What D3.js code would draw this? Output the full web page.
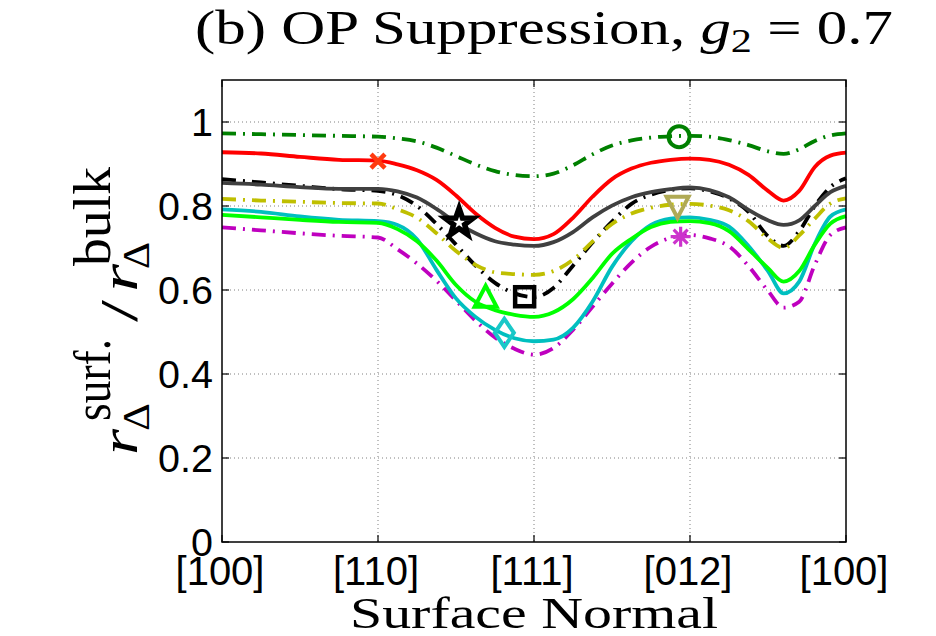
<!DOCTYPE html>
<html>
<head>
<meta charset="utf-8">
<script src="https://cdn.jsdelivr.net/npm/d3@7"></script>
<style>
  html, body { margin: 0; padding: 0; background: #fff; }
  svg { display: block; }
</style>
</head>
<body>
<svg id="chart" width="936" height="636"></svg>
<script>
// ---------------- data ----------------
const xTickValues = [0, 1, 2, 3, 4];
const xTickLabels = ["[100]", "[110]", "[111]", "[012]", "[100]"];
const yTickValues = [0, 0.2, 0.4, 0.6, 0.8, 1];
const yTickLabels = ["0", "0.2", "0.4", "0.6", "0.8", "1"];

const xGrid = [0, 0.25, 0.5, 0.75, 1, 1.125, 1.25, 1.375, 1.5, 1.625, 1.75, 1.875, 2, 2.125, 2.25, 2.375, 2.5, 2.625, 2.75, 2.875, 3, 3.125, 3.25, 3.375, 3.5, 3.6, 3.7, 3.8, 3.9, 4];

const darkGreenDashDot = [0.973, 0.971, 0.969, 0.967, 0.965, 0.961, 0.954, 0.939, 0.919, 0.899, 0.883, 0.874, 0.871, 0.877, 0.897, 0.923, 0.944, 0.956, 0.963, 0.966, 0.967, 0.965, 0.957, 0.945, 0.930, 0.924, 0.935, 0.955, 0.968, 0.973];
const redSolid = [0.928, 0.925, 0.917, 0.910, 0.908, 0.899, 0.885, 0.862, 0.825, 0.782, 0.748, 0.727, 0.721, 0.733, 0.772, 0.822, 0.864, 0.889, 0.903, 0.910, 0.913, 0.910, 0.898, 0.874, 0.836, 0.813, 0.836, 0.893, 0.920, 0.927];
const graySolid = [0.855, 0.851, 0.845, 0.841, 0.841, 0.835, 0.820, 0.793, 0.761, 0.735, 0.716, 0.708, 0.705, 0.714, 0.738, 0.773, 0.801, 0.821, 0.833, 0.840, 0.844, 0.838, 0.821, 0.791, 0.766, 0.755, 0.766, 0.800, 0.833, 0.848];
const blackDashDot = [0.864, 0.856, 0.848, 0.840, 0.836, 0.826, 0.800, 0.757, 0.708, 0.658, 0.617, 0.592, 0.583, 0.605, 0.658, 0.713, 0.763, 0.805, 0.827, 0.838, 0.842, 0.835, 0.818, 0.786, 0.728, 0.705, 0.740, 0.800, 0.845, 0.866];
const yellowDashDot = [0.817, 0.813, 0.810, 0.807, 0.806, 0.792, 0.772, 0.735, 0.693, 0.660, 0.642, 0.638, 0.636, 0.645, 0.672, 0.715, 0.757, 0.782, 0.796, 0.803, 0.805, 0.801, 0.790, 0.764, 0.722, 0.700, 0.730, 0.770, 0.806, 0.818];
const cyanSolid = [0.792, 0.786, 0.775, 0.767, 0.764, 0.755, 0.721, 0.648, 0.580, 0.536, 0.505, 0.485, 0.478, 0.482, 0.510, 0.572, 0.655, 0.716, 0.755, 0.770, 0.773, 0.767, 0.751, 0.705, 0.645, 0.592, 0.620, 0.710, 0.775, 0.792];
const greenSolid = [0.779, 0.773, 0.767, 0.762, 0.760, 0.745, 0.716, 0.670, 0.612, 0.572, 0.552, 0.541, 0.536, 0.547, 0.578, 0.628, 0.686, 0.722, 0.750, 0.762, 0.764, 0.759, 0.740, 0.697, 0.652, 0.620, 0.645, 0.708, 0.758, 0.776];
const magentaDashDot = [0.749, 0.742, 0.735, 0.729, 0.725, 0.697, 0.663, 0.622, 0.575, 0.527, 0.487, 0.460, 0.446, 0.462, 0.505, 0.560, 0.615, 0.665, 0.703, 0.724, 0.731, 0.723, 0.704, 0.657, 0.598, 0.558, 0.572, 0.660, 0.731, 0.749];

const markerNames = ["x", "star", "triangleUp", "square", "diamond", "circle", "triangleDown", "asterisk"];
const markerXs = [1.0, 1.52, 1.69, 1.94, 1.81, 2.93, 2.92, 2.94];
const markerYs = [0.907, 0.760, 0.584, 0.584, 0.498, 0.965, 0.798, 0.727];

// ---------------- layout / styles ----------------
const svg = d3.select("#chart");
const L = 222, R = 846, T = 80, B = 542;
const x = d3.scaleLinear().domain([0, 4]).range([L, R]);
const y = d3.scaleLinear().domain([0, 1.1]).range([B, T]);

const sansFont = "'Liberation Sans', Arial, Helvetica, sans-serif";
const serifFont = "'Liberation Serif', 'Times New Roman', serif";
const dashDot = "14,7,2,7";

const seriesList = [
  { values: darkGreenDashDot, color: "#008000", dash: dashDot },
  { values: blackDashDot, color: "#000000", dash: dashDot },
  { values: yellowDashDot, color: "#bfbf00", dash: dashDot },
  { values: magentaDashDot, color: "#bf00bf", dash: dashDot },
  { values: redSolid, color: "#ff0000", dash: null },
  { values: graySolid, color: "#404040", dash: null },
  { values: cyanSolid, color: "#00bfbf", dash: null },
  { values: greenSolid, color: "#00ff00", dash: null }
];
const markerColors = ["#ff3a10", "#000000", "#00ff00", "#000000", "#19c8c8", "#008000", "#b0aa55", "#cc33cc"];

// ---------------- grid ----------------
const grid = svg.append("g");
grid.selectAll("line.gx").data(xTickValues.slice(1, -1)).enter().append("line")
  .attr("x1", d => x(d)).attr("x2", d => x(d)).attr("y1", T).attr("y2", B)
  .attr("stroke", "#808080").attr("stroke-width", 1).attr("stroke-dasharray", "1,3");
grid.selectAll("line.gy").data(yTickValues.slice(1)).enter().append("line")
  .attr("x1", L).attr("x2", R).attr("y1", d => y(d)).attr("y2", d => y(d))
  .attr("stroke", "#808080").attr("stroke-width", 1).attr("stroke-dasharray", "1,3");

// ---------------- lines ----------------
const line = d3.line().x((d, i) => x(xGrid[i])).y(d => y(d)).curve(d3.curveMonotoneX);
const linesG = svg.append("g");
seriesList.forEach(s => {
  linesG.append("path").attr("d", line(s.values))
    .attr("fill", "none").attr("stroke", s.color).attr("stroke-width", 3.8)
    .attr("stroke-linejoin", "round")
    .attr("stroke-dasharray", s.dash);
});

// ---------------- markers ----------------
function starPath(ro, ri) {
  const pts = [];
  for (let k = 0; k < 10; k++) {
    const r = k % 2 === 0 ? ro : ri;
    const a = -Math.PI / 2 + k * Math.PI / 5;
    pts.push([r * Math.cos(a), r * Math.sin(a)]);
  }
  return "M" + pts.map(p => p.join(",")).join("L") + "Z";
}
const mg = svg.append("g");
markerNames.forEach((name, i) => {
  const cx = x(markerXs[i]), cy = y(markerYs[i]);
  const col = markerColors[i];
  const g = mg.append("g").attr("transform", `translate(${cx},${cy})`);
  if (name === "x") {
    g.append("path").attr("d", "M-7,-7L7,7M-7,7L7,-7").attr("stroke", col).attr("stroke-width", 4.5);
  } else if (name === "star") {
    g.append("path").attr("d", starPath(14.5, 5.8)).attr("fill", "#fff").attr("stroke", col)
      .attr("stroke-width", 5.5).attr("stroke-linejoin", "miter");
  } else if (name === "triangleUp") {
    g.append("path").attr("d", "M0,-11L11,10L-11,10Z").attr("fill", "none").attr("stroke", col).attr("stroke-width", 4);
  } else if (name === "square") {
    g.append("rect").attr("x", -9.5).attr("y", -9.5).attr("width", 19).attr("height", 19)
      .attr("fill", "none").attr("stroke", col).attr("stroke-width", 4.5);
  } else if (name === "diamond") {
    g.append("path").attr("d", "M0,-14L9.5,0L0,14L-9.5,0Z").attr("fill", "none").attr("stroke", col).attr("stroke-width", 4);
  } else if (name === "circle") {
    g.append("circle").attr("r", 10.5).attr("fill", "none").attr("stroke", col).attr("stroke-width", 4);
  } else if (name === "triangleDown") {
    g.append("path").attr("d", "M0,11L11,-10L-11,-10Z").attr("fill", "none").attr("stroke", col).attr("stroke-width", 4);
  } else if (name === "asterisk") {
    g.append("path").attr("d", "M-10,0L10,0M0,-10L0,10M-7,-7L7,7M-7,7L7,-7").attr("stroke", col).attr("stroke-width", 3.2);
  }
});

// ---------------- frame and ticks ----------------
const frame = svg.append("g");
frame.append("rect").attr("x", L).attr("y", T).attr("width", R - L).attr("height", B - T)
  .attr("fill", "none").attr("stroke", "#000").attr("stroke-width", 1.5);
const tickLen = 7;
xTickValues.forEach(v => {
  frame.append("line").attr("x1", x(v)).attr("x2", x(v)).attr("y1", B).attr("y2", B - tickLen).attr("stroke", "#000").attr("stroke-width", 1.2);
  frame.append("line").attr("x1", x(v)).attr("x2", x(v)).attr("y1", T).attr("y2", T + tickLen).attr("stroke", "#000").attr("stroke-width", 1.2);
});
yTickValues.forEach(v => {
  frame.append("line").attr("x1", L).attr("x2", L + tickLen).attr("y1", y(v)).attr("y2", y(v)).attr("stroke", "#000").attr("stroke-width", 1.2);
  frame.append("line").attr("x1", R).attr("x2", R - tickLen).attr("y1", y(v)).attr("y2", y(v)).attr("stroke", "#000").attr("stroke-width", 1.2);
});

// tick labels
svg.append("g").selectAll("text").data(yTickValues).enter().append("text")
  .attr("x", L - 9).attr("y", d => y(d) + 14)
  .attr("text-anchor", "end").attr("font-family", sansFont).attr("font-size", 39.5)
  .text((d, i) => yTickLabels[i]);
svg.append("g").selectAll("text").data(xTickValues).enter().append("text")
  .attr("x", d => x(d) - 2).attr("y", 585)
  .attr("text-anchor", "middle").attr("font-family", sansFont).attr("font-size", 40)
  .text((d, i) => xTickLabels[i]);

// ---------------- titles ----------------
const title = svg.append("text").attr("x", 195).attr("y", 44)
  .attr("font-family", serifFont).attr("font-size", 49)
  .attr("textLength", 698).attr("lengthAdjust", "spacingAndGlyphs");
title.append("tspan").text("(b) OP Suppression, ");
title.append("tspan").attr("font-style", "italic").text("g");
title.append("tspan").attr("font-size", 34).attr("dy", 8).text("2");
title.append("tspan").attr("dy", -8).text(" = 0.7");

svg.append("text").attr("x", 350).attr("y", 628)
  .attr("font-family", serifFont).attr("font-size", 45)
  .attr("textLength", 368).attr("lengthAdjust", "spacingAndGlyphs")
  .text("Surface Normal");

// y label: r_Δ^surf. / r_Δ^bulk  (rotated)
const yl = svg.append("g").attr("transform", "translate(137,0) rotate(-90)");
function ytxt(str, lx, ly, size, style, len) {
  const t = yl.append("text").attr("x", lx).attr("y", ly)
    .attr("font-family", serifFont).attr("font-size", size).attr("font-style", style).text(str);
  if (len) t.attr("textLength", len).attr("lengthAdjust", "spacingAndGlyphs");
  return t;
}
ytxt("r", -455, 0, 52, "italic", 26);
ytxt("Δ", -431, 12, 38, "normal", 28);
ytxt("surf.", -421, -27, 52, "normal", 82);
ytxt("/", -322, 0, 52, "normal", 22);
ytxt("r", -292, 0, 52, "italic", 28);
ytxt("Δ", -269, 12, 38, "normal", 27);
ytxt("bulk", -266, -27, 52, "normal", 99);
</script>
</body>
</html>
